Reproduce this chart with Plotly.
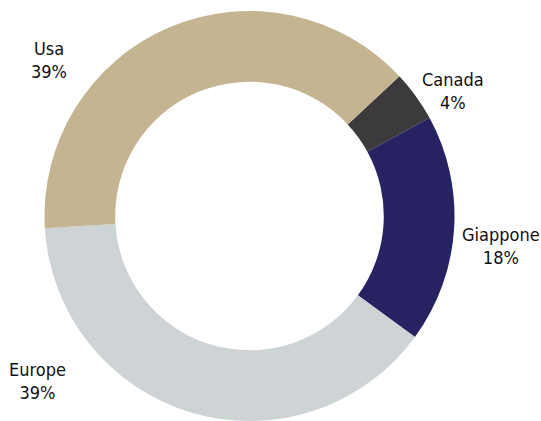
import plotly.graph_objects as go

labels = ["Canada", "Giappone", "Europe", "Usa"]
values = [4, 18, 39, 39]
colors = ["#3d3a3d", "#272262", "#ced3d6", "#c4b491"]

# label anchor positions in pixels (x, y from top)
label_pos = {"Usa": (49, 50), "Canada": (453, 82), "Giappone": (501, 241), "Europe": (37.5, 380)}

W, H = 541, 421
FONT = "DejaVu Sans Condensed"

fig = go.Figure(go.Pie(
    labels=labels,
    values=values,
    marker=dict(colors=colors, line=dict(width=0)),
    hole=0.655,
    sort=False,
    direction="clockwise",
    rotation=47,
    textinfo="none",
    hoverinfo="label+percent",
    showlegend=False,
    domain=dict(x=[0, 0.9224], y=[0, 1]),
))

annotations = []
for lab, val in zip(labels, values):
    px, py = label_pos[lab]
    annotations.append(dict(
        text=f"{lab}<br>{val}%",
        x=px / W, y=1 - py / H, xref="paper", yref="paper",
        xanchor="center", yanchor="middle", showarrow=False,
        font=dict(family=FONT, size=18, color="#111111", weight=400),
        align="center",
    ))

fig.update_layout(
    width=W, height=H,
    margin=dict(l=0, r=0, t=11, b=0),
    paper_bgcolor="white", plot_bgcolor="white",
    annotations=annotations,
)

fig.write_html("out.html")
